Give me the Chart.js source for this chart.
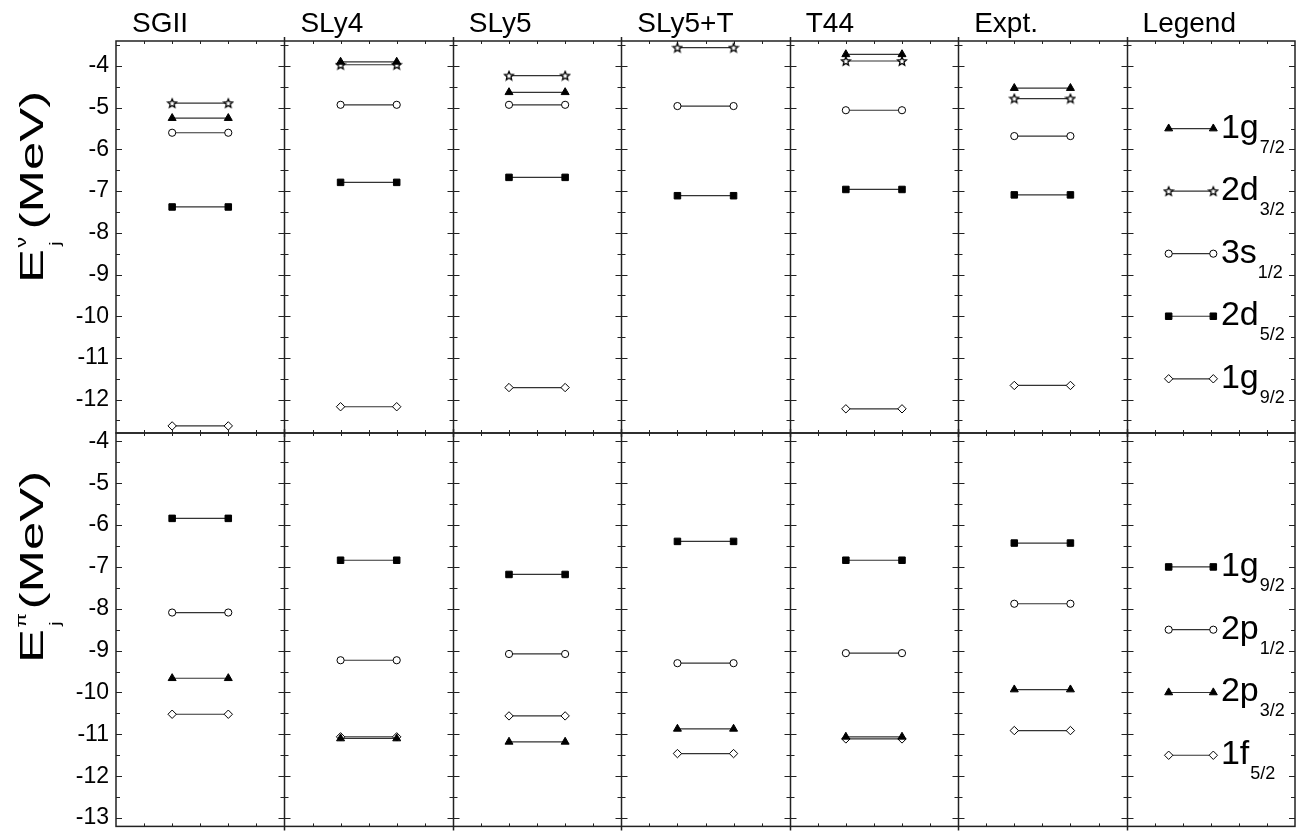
<!DOCTYPE html>
<html>
<head>
<meta charset="utf-8">
<script src="https://cdn.jsdelivr.net/npm/chart.js@4/dist/chart.umd.min.js"></script>
<style>
html, body { margin: 0; padding: 0; background: #fff; }
#wrap { position: relative; width: 1304px; height: 832px; }
.box { position: absolute; left: 0; width: 1304px; }
#topBox { top: 0; height: 440px; }
#botBox { top: 420px; height: 412px; }
</style>
</head>
<body>
<div id="wrap">
  <div class="box" id="topBox"><canvas id="topChart"></canvas></div>
  <div class="box" id="botBox"><canvas id="botChart"></canvas></div>
</div>
<script>
// columns (last one only holds the legend)
var models = ['SGII', 'SLy4', 'SLy5', 'SLy5+T', 'T44', 'Expt.'];
var columnTitles = models.concat(['Legend']);

// neutron single particle energies (MeV), one value per model
var nu1g72 = [-5.25, -3.90, -4.63, null, -3.72, -4.53];
var nu2d32 = [-4.89, -3.97, -4.23, -3.56, -3.88, -4.78];
var nu3s12 = [-5.60, -4.93, -4.93, -4.96, -5.06, -5.68];
var nu2d52 = [-7.38, -6.79, -6.67, -7.11, -6.96, -7.09];
var nu1g92 = [-12.63, -12.17, -11.71, null, -12.22, -11.66];

// proton single particle energies (MeV)
var pi1g92 = [-5.84, -6.84, -7.18, -6.39, -6.84, -6.43];
var pi2p12 = [-8.09, -9.23, -9.08, -9.30, -9.06, -7.88];
var pi2p32 = [-9.66, -11.10, -11.18, -10.87, -11.06, -9.93];
var pi1f52 = [-10.52, -11.06, -10.56, -11.46, -11.11, -10.91];

// legend labels [main, subscript] and the energy row they sit on
var nuLabels = [['1g', '7/2'], ['2d', '3/2'], ['3s', '1/2'], ['2d', '5/2'], ['1g', '9/2']];
var nuLegendRows = [-5.5, -7, -8.5, -10, -11.5];
var piLabels = [['1g', '9/2'], ['2p', '1/2'], ['2p', '3/2'], ['1f', '5/2']];
var piLegendRows = [-7, -8.5, -10, -11.5];

var FONT = "'Liberation Sans', Arial, Helvetica, sans-serif";

function starImage() {
    var c = document.createElement('canvas');
    c.width = 12; c.height = 12;
    var g = c.getContext('2d');
    g.beginPath();
    for (var k = 0; k < 10; k++) {
        var r = k % 2 ? 2.1 : 4.6;
        var ang = -Math.PI / 2 + k * Math.PI / 5;
        var px = 6 + r * Math.cos(ang), py = 6.4 + r * Math.sin(ang);
        if (k) g.lineTo(px, py); else g.moveTo(px, py);
    }
    g.closePath();
    g.fillStyle = '#fff';
    g.fill();
    g.strokeStyle = '#000';
    g.lineWidth = 1.3;
    g.stroke();
    return c;
}
var star = starImage();

var markers = {
    triangle: { pointStyle: 'triangle', pointRadius: 4.6, pointBackgroundColor: '#000' },
    star: { pointStyle: star, pointRadius: 5, pointBackgroundColor: '#fff' },
    circle: { pointStyle: 'circle', pointRadius: 3.6, pointBackgroundColor: '#fff' },
    square: { pointStyle: 'rect', pointRadius: 4.6, pointBackgroundColor: '#000' },
    diamond: { pointStyle: 'rectRot', pointRadius: 4.2, pointBackgroundColor: '#fff' }
};

// one short horizontal level per model column, plus the legend sample
function levelData(values, legendRow) {
    var pts = [];
    values.forEach(function (v, i) {
        if (v === null) return;
        pts.push({ x: i + 1 / 3, y: v }, { x: i + 2 / 3, y: v }, { x: i + 0.5, y: null });
    });
    pts.push({ x: 6.25, y: legendRow }, { x: 6.515, y: legendRow });
    return pts;
}

function level(values, legendRow, marker) {
    return Object.assign({
        data: levelData(values, legendRow),
        borderColor: '#333',
        borderWidth: 1.2,
        pointBorderColor: '#000',
        pointBorderWidth: 1,
        pointHoverRadius: 4,
        spanGaps: false,
        showLine: true,
        fill: false
    }, markers[marker]);
}

function line(ctx, x1, y1, x2, y2) {
    ctx.beginPath();
    ctx.moveTo(x1, y1);
    ctx.lineTo(x2, y2);
    ctx.stroke();
}

var framePlugin = {
    id: 'frame',
    beforeDatasetsDraw: function (chart) {
        var ctx = chart.ctx, a = chart.chartArea, xs = chart.scales.x, ys = chart.scales.y;
        ctx.save();
        ctx.strokeStyle = '#222';
        ctx.lineWidth = 1.5;
        ctx.strokeRect(a.left, a.top, a.right - a.left, a.bottom - a.top);
        var cols = [];
        for (var i = 1; i < 7; i++) {
            var px = Math.round(xs.getPixelForValue(i)) + 0.5;
            cols.push(px);
            line(ctx, px, a.top - 4, px, a.bottom + 4);
        }
        ctx.lineWidth = 1;
        var first = Math.ceil(ys.min * 2), last = Math.floor(ys.max * 2);
        for (var h = first; h <= last; h++) {
            var py = Math.round(ys.getPixelForValue(h / 2)) + 0.5;
            var len = h % 2 === 0 ? 6 : 4;
            line(ctx, a.left, py, a.left + len, py);
            line(ctx, a.right - len, py, a.right, py);
            cols.forEach(function (cx) { line(ctx, cx - len, py, cx + len, py); });
        }
        for (var k = 1; k < 42; k++) {
            if (k % 6 === 0) continue;
            var tx = Math.round(xs.getPixelForValue(k / 6)) + 0.5;
            line(ctx, tx, a.top, tx, a.top + 3);
            line(ctx, tx, a.bottom - 3, tx, a.bottom);
        }
        ctx.restore();
    }
};

var textPlugin = {
    id: 'levelText',
    afterDraw: function (chart, args, opts) {
        var ctx = chart.ctx, xs = chart.scales.x, ys = chart.scales.y;
        ctx.save();
        ctx.fillStyle = '#000';
        ctx.textBaseline = 'alphabetic';
        ctx.textAlign = 'left';

        if (opts.titles) {
            ctx.font = '28px ' + FONT;
            columnTitles.forEach(function (t, i) {
                ctx.fillText(t, xs.getPixelForValue(i) + 16, 32);
            });
        }

        // legend labels with subscripts
        opts.labels.forEach(function (lab, i) {
            var lx = xs.getPixelForValue(6.56);
            var ly = ys.getPixelForValue(opts.rows[i]);
            ctx.font = '34px ' + FONT;
            ctx.fillText(lab[0], lx, ly + 9);
            var w = ctx.measureText(lab[0]).width;
            ctx.font = '18px ' + FONT;
            ctx.fillText(lab[1], lx + w + 1, ly + 24);
        });

        // rotated axis title E_j^x (MeV), stretched along the text
        ctx.translate(43, opts.titleStart);
        ctx.rotate(-Math.PI / 2);
        ctx.scale(1.5, 1);
        ctx.font = '34px ' + FONT;
        ctx.fillText('E', 0, 0);
        var ew = ctx.measureText('E').width;
        ctx.font = '14px ' + FONT;
        ctx.fillText(opts.sup, ew + 1, -17);
        ctx.fillText('j', ew + 2, 17);
        ctx.font = '34px ' + FONT;
        ctx.fillText('(MeV)', ew + 13, 0);
        ctx.restore();
    }
};

function makeChart(id, yMin, yMax, datasets, pad, textOpts) {
    return new Chart(document.getElementById(id), {
        type: 'line',
        data: { datasets: datasets },
        options: {
            responsive: true,
            maintainAspectRatio: false,
            animation: false,
            events: [],
            layout: { padding: pad },
            plugins: {
                legend: { display: false },
                tooltip: { enabled: false },
                levelText: textOpts
            },
            scales: {
                x: { type: 'linear', min: 0, max: 7, display: false },
                y: {
                    type: 'linear',
                    min: yMin,
                    max: yMax,
                    grid: { display: false, drawTicks: false },
                    border: { display: false },
                    afterFit: function (s) {
                        s.width = 116;
                        s.paddingTop = 0;
                        s.paddingBottom = 0;
                    },
                    ticks: {
                        stepSize: 1,
                        includeBounds: false,
                        padding: 7,
                        color: '#000',
                        font: { family: FONT, size: 23 }
                    }
                }
            }
        },
        plugins: [framePlugin, textPlugin]
    });
}

var topChart = makeChart('topChart', -12.8, -3.4, [
    level(nu1g72, nuLegendRows[0], 'triangle'),
    level(nu2d32, nuLegendRows[1], 'star'),
    level(nu3s12, nuLegendRows[2], 'circle'),
    level(nu2d52, nuLegendRows[3], 'square'),
    level(nu1g92, nuLegendRows[4], 'diamond')
], { top: 41, bottom: 7, left: 0, right: 9 },
   { titles: true, labels: nuLabels, rows: nuLegendRows, sup: '\u03BD', titleStart: 283 });

var botChart = makeChart('botChart', -13.2, -3.8, [
    level(pi1g92, piLegendRows[0], 'square'),
    level(pi2p12, piLegendRows[1], 'circle'),
    level(pi2p32, piLegendRows[2], 'triangle'),
    level(pi1f52, piLegendRows[3], 'diamond')
], { top: 13, bottom: 5, left: 0, right: 9 },
   { titles: false, labels: piLabels, rows: piLegendRows, sup: '\u03C0', titleStart: 243 });
</script>
</body>
</html>
